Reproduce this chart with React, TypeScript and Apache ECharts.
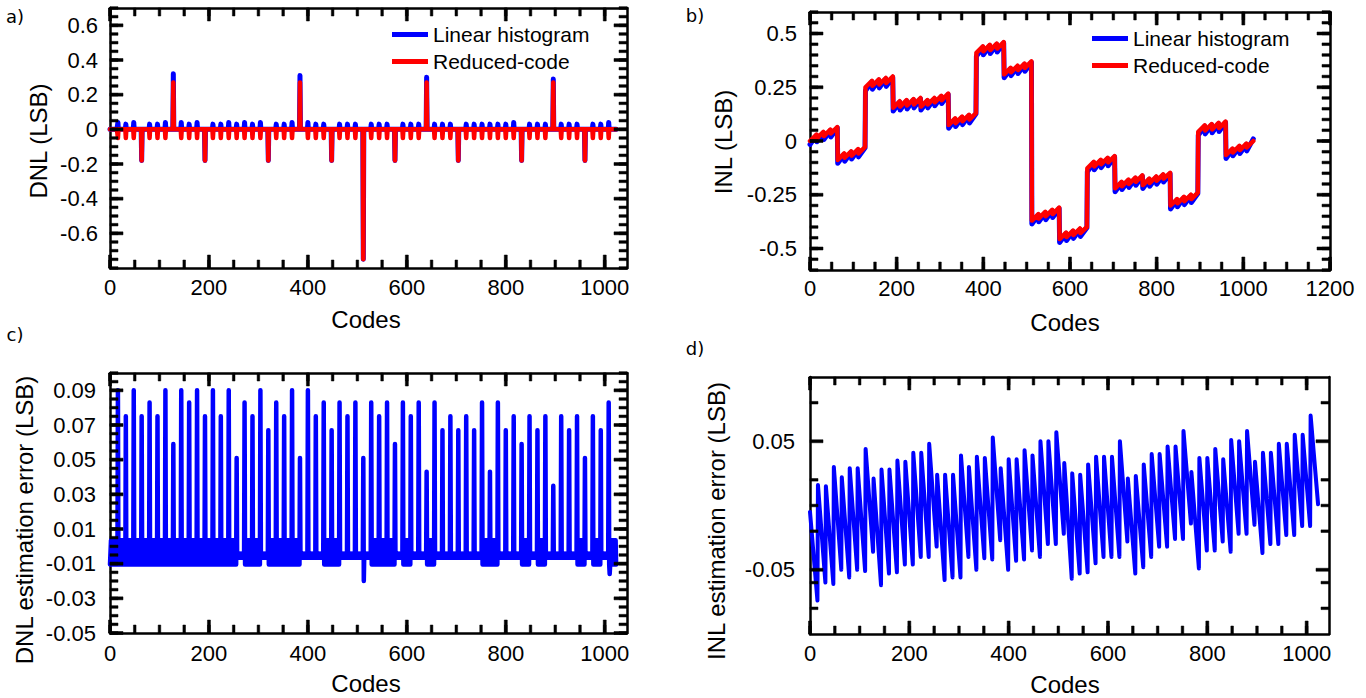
import React, { useEffect, useRef } from "react";
import * as echarts from "echarts";

const FONT = "'Liberation Sans', Arial, Helvetica, sans-serif";
const LETTER_FONT = "'DejaVu Sans', 'Open Sans', sans-serif";
const BLUE = "#0000ff";
const RED = "#ff0000";
const BLOCK = 16;
const N_CODES = 1024;
const X_MAX = 1045;

// ---------- panel a: DNL at every 16th code (other codes sit on 0) ----------
const dnlLinearAt16 = [
  0, 0.04, 0.03, 0.04, -0.18, 0.03, 0.03, 0.04,
  0.32, 0.04, 0.03, 0.04, -0.18, 0.03, 0.03, 0.04,
  0.03, 0.04, 0.03, 0.04, -0.18, 0.03, 0.03, 0.04,
  0.31, 0.04, 0.03, 0.03, -0.18, 0.03, 0.03, 0.03,
  -0.75, 0.03, 0.03, 0.03, -0.18, 0.03, 0.03, 0.03,
  0.3, 0.03, 0.03, 0.03, -0.18, 0.03, 0.03, 0.03,
  0.03, 0.03, 0.03, 0.04, -0.18, 0.03, 0.03, 0.03,
  0.29, 0.03, 0.03, 0.03, -0.18, 0.03, 0.03, 0.04,
];
const dnlReducedAt16 = [
  0, -0.05, -0.05, -0.05, -0.18, -0.05, -0.05, -0.05,
  0.27, -0.05, -0.05, -0.05, -0.18, -0.05, -0.05, -0.05,
  -0.05, -0.05, -0.05, -0.05, -0.18, -0.05, -0.05, -0.05,
  0.27, -0.05, -0.05, -0.05, -0.18, -0.05, -0.05, -0.05,
  -0.75, -0.05, -0.05, -0.05, -0.18, -0.05, -0.05, -0.05,
  0.27, -0.05, -0.05, -0.05, -0.18, -0.05, -0.05, -0.05,
  -0.05, -0.05, -0.05, -0.05, -0.18, -0.05, -0.05, -0.05,
  0.27, -0.05, -0.05, -0.05, -0.18, -0.05, -0.05, -0.05,
];

// ---------- panel b: INL at start / end of every 16-code block ----------
const inlReducedStart = [
  0, 0.012, 0.023, 0.035, -0.088, -0.078, -0.068, -0.058,
  0.25, 0.257, 0.263, 0.27, 0.155, 0.16, 0.165, 0.17,
  0.16, 0.17, 0.18, 0.19, 0.075, 0.083, 0.092, 0.1,
  0.41, 0.417, 0.423, 0.43, 0.31, 0.32, 0.33, 0.34,
  -0.37, -0.36, -0.35, -0.34, -0.456, -0.447, -0.437, -0.428,
  -0.127, -0.118, -0.108, -0.099, -0.22, -0.21, -0.2, -0.19,
  -0.205, -0.195, -0.185, -0.175, -0.3, -0.29, -0.28, -0.27,
  0.043, 0.049, 0.054, 0.06, -0.065, -0.053, -0.042, -0.03,
];
const inlReducedEnd = [
  0.03, 0.042, 0.053, 0.065, -0.058, -0.048, -0.038, -0.028,
  0.28, 0.287, 0.293, 0.3, 0.185, 0.19, 0.195, 0.2,
  0.19, 0.2, 0.21, 0.22, 0.105, 0.113, 0.122, 0.13,
  0.44, 0.447, 0.453, 0.46, 0.34, 0.35, 0.36, 0.37,
  -0.34, -0.33, -0.32, -0.31, -0.426, -0.417, -0.407, -0.4,
  -0.097, -0.088, -0.078, -0.07, -0.19, -0.18, -0.17, -0.16,
  -0.175, -0.165, -0.155, -0.148, -0.27, -0.26, -0.25, -0.24,
  0.073, 0.079, 0.084, 0.09, -0.035, -0.023, -0.012, 0.0,
];
const inlLinearStart = [
  -0.016, -0.004, 0.007, 0.019, -0.104, -0.094, -0.084, -0.074,
  0.234, 0.241, 0.247, 0.254, 0.139, 0.144, 0.149, 0.154,
  0.144, 0.154, 0.164, 0.174, 0.059, 0.067, 0.076, 0.084,
  0.394, 0.401, 0.407, 0.414, 0.294, 0.304, 0.314, 0.324,
  -0.386, -0.376, -0.366, -0.356, -0.472, -0.463, -0.453, -0.444,
  -0.143, -0.134, -0.124, -0.115, -0.236, -0.226, -0.216, -0.206,
  -0.221, -0.211, -0.201, -0.191, -0.316, -0.306, -0.296, -0.286,
  0.027, 0.033, 0.038, 0.044, -0.081, -0.069, -0.058, -0.046,
];
const inlLinearEnd = [
  0.026, 0.038, 0.049, 0.061, -0.062, -0.052, -0.042, -0.032,
  0.276, 0.283, 0.289, 0.296, 0.181, 0.186, 0.191, 0.196,
  0.186, 0.196, 0.206, 0.216, 0.101, 0.109, 0.118, 0.126,
  0.436, 0.443, 0.449, 0.456, 0.336, 0.346, 0.356, 0.366,
  -0.344, -0.334, -0.324, -0.314, -0.43, -0.421, -0.411, -0.404,
  -0.101, -0.092, -0.082, -0.074, -0.194, -0.184, -0.174, -0.164,
  -0.179, -0.169, -0.159, -0.152, -0.274, -0.264, -0.254, -0.244,
  0.069, 0.075, 0.08, 0.086, -0.039, -0.027, -0.016, 0.01,
];

// ---------- panel c: DNL estimation error ----------
const dnlErrAt16 = [
  -0.0105,
  0.09, 0.075, 0.09, 0.075, 0.083, 0.075, 0.09, 0.059,
  0.09, 0.083, 0.09, 0.075, 0.09, 0.075, 0.09, 0.051,
  0.083, 0.075, 0.09, 0.067, 0.083, 0.075, 0.09, 0.051,
  0.09, 0.075, 0.083, 0.067, 0.083, 0.075, 0.083, 0.051,
  0.083, 0.075, 0.083, 0.059, 0.083, 0.075, 0.083, 0.043,
  0.083, 0.067, 0.075, 0.067, 0.075, 0.067, 0.083, 0.043,
  0.083, 0.067, 0.075, 0.059, 0.075, 0.067, 0.075, 0.035,
  0.075, 0.067, 0.075, 0.051, 0.075, 0.067, 0.083,
];
// 1 = block whose in-between codes swing over the full noise band
const dnlErrNoisyBlock = [
  1, 1, 1, 1, 1, 1, 1, 1, 1, 1, 1, 1, 1, 1, 1, 1,
  0, 1, 1, 0, 1, 1, 1, 1, 0, 0, 0, 1, 1, 0, 0, 0,
  0, 1, 1, 1, 0, 1, 0, 0, 1, 0, 0, 0, 0, 0, 0, 1,
  1, 0, 0, 0, 1, 0, 1, 0, 0, 0, 0, 1, 0, 1, 0, 1,
];
const dnlErrNoisyShape = [
  -0.0105, 0.0035, -0.0105, 0.0035, -0.0105, 0.0035, -0.0105, 0.0035,
  -0.0105, 0.0035, -0.0105, 0.0035, -0.0105, 0.0035, -0.0105,
];
const dnlErrQuietShape = [
  -0.0066, -0.0042, -0.0066, -0.0042, -0.0066, -0.0042, -0.0066, -0.0042,
  -0.0066, -0.0042, -0.0066, -0.0042, -0.0066, -0.0042, -0.0066,
];
const dnlErrDips: [number, number][] = [
  [513, -0.02],
  [1010, -0.016],
];

// ---------- panel d: INL estimation error (sawtooth, 16-code period) ----------
const inlErrPeak = [
  -0.005, 0.016, 0.015, 0.03, 0.022, 0.029, 0.029, 0.044,
  0.021, 0.028, 0.028, 0.035, 0.034, 0.041, 0.041, 0.048,
  0.024, 0.024, 0.024, 0.039, 0.03, 0.038, 0.037, 0.053,
  0.029, 0.036, 0.036, 0.043, 0.039, 0.05, 0.05, 0.057,
  0.033, 0.025, 0.024, 0.032, 0.038, 0.038, 0.038, 0.05,
  0.021, 0.023, 0.032, 0.04, 0.04, 0.046, 0.046, 0.058,
  0.026, 0.037, 0.037, 0.044, 0.036, 0.051, 0.05, 0.058,
  0.034, 0.041, 0.041, 0.048, 0.048, 0.055, 0.055, 0.07,
];
const inlErrTrough = [
  -0.074, -0.06, -0.061, -0.05, -0.056, -0.05, -0.051, -0.036,
  -0.062, -0.053, -0.052, -0.046, -0.046, -0.04, -0.04, -0.032,
  -0.058, -0.056, -0.056, -0.04, -0.05, -0.041, -0.042, -0.027,
  -0.05, -0.043, -0.042, -0.035, -0.04, -0.03, -0.03, -0.022,
  -0.057, -0.053, -0.052, -0.045, -0.04, -0.04, -0.04, -0.028,
  -0.053, -0.048, -0.04, -0.032, -0.032, -0.026, -0.026, -0.014,
  -0.049, -0.035, -0.035, -0.028, -0.036, -0.022, -0.022, -0.015,
  -0.037, -0.03, -0.03, -0.023, -0.023, -0.016, -0.016, 0.001,
];

// ---------- tick labels ----------
const xTicks1000 = [0, 200, 400, 600, 800, 1000];
const xTicks1200 = [0, 200, 400, 600, 800, 1000, 1200];
const yTicksA = [-0.6, -0.4, -0.2, 0, 0.2, 0.4, 0.6];
const yTicksB = [-0.5, -0.25, 0, 0.25, 0.5];
const yTicksC = [-0.05, -0.03, -0.01, 0.01, 0.03, 0.05, 0.07, 0.09];
const yTicksD = [-0.05, 0.05];
const yMinorD = [-0.08, -0.06, -0.02, 0, 0.02, 0.08];

function steps(a: number, b: number, s: number) {
  const out: number[] = [];
  const n = Math.floor((b - a) / s + 1e-9);
  for (let i = 0; i <= n; i++) out.push(+(a + i * s).toFixed(5));
  return out;
}

function spikeSeries(at16: number[]) {
  const out: number[][] = [];
  for (let c = 0; c < N_CODES; c++) out.push([c, c % BLOCK === 0 ? at16[c / BLOCK] : 0]);
  return out;
}

function blockSeries(start: number[], end: number[]) {
  const out: number[][] = [];
  start.forEach((v, k) => {
    out.push([k * BLOCK, v]);
    out.push([k * BLOCK + BLOCK - 1, end[k]]);
  });
  return out;
}

function dnlErrSeries() {
  const out: number[][] = [];
  for (let m = 0; m < N_CODES / BLOCK; m++) {
    out.push([m * BLOCK, dnlErrAt16[m]]);
    const shape = dnlErrNoisyBlock[m] ? dnlErrNoisyShape : dnlErrQuietShape;
    for (let i = 1; i < BLOCK; i++) out.push([m * BLOCK + i, shape[i - 1]]);
  }
  dnlErrDips.forEach(([c, v]) => {
    out[c] = [c, v];
  });
  return out;
}

type Dim = {
  min: number;
  max: number;
  labels: number[];
  fmt: (v: number) => string;
  margin: number;
  major: number[];
  minor: number[];
};
type Panel = { grid: { left: number; top: number; width: number; height: number }; x: Dim; y: Dim };

const xFmt = (v: number) => String(v);
const xDim1045 = (margin: number): Dim => ({
  min: 0, max: X_MAX, labels: xTicks1000, fmt: xFmt, margin,
  major: xTicks1000, minor: steps(0, X_MAX, 50),
});

const panels: Panel[] = [
  {
    grid: { left: 110, top: 8, width: 517, height: 260 },
    x: xDim1045(8),
    y: {
      min: -0.8, max: 0.7, labels: yTicksA, fmt: (v) => (v === 0 ? "0" : v.toFixed(1)), margin: 12,
      major: yTicksA, minor: steps(-0.8, 0.7, 0.05),
    },
  },
  {
    grid: { left: 810, top: 12, width: 520, height: 258 },
    x: {
      min: 0, max: 1200, labels: xTicks1200, fmt: xFmt, margin: 7,
      major: xTicks1200, minor: steps(0, 1200, 50),
    },
    y: {
      min: -0.6, max: 0.6, labels: yTicksB, fmt: (v) => String(v), margin: 13,
      major: yTicksB, minor: steps(-0.6, 0.6, 0.05),
    },
  },
  {
    grid: { left: 110, top: 373, width: 517, height: 260 },
    x: xDim1045(9),
    y: {
      min: -0.05, max: 0.1, labels: yTicksC, fmt: (v) => v.toFixed(2), margin: 14,
      major: yTicksC, minor: steps(-0.05, 0.1, 0.005),
    },
  },
  {
    grid: { left: 810, top: 377, width: 519, height: 257 },
    x: xDim1045(8),
    y: {
      min: -0.1, max: 0.1, labels: yTicksD, fmt: (v) => v.toFixed(2), margin: 15,
      major: yTicksD, minor: yMinorD,
    },
  },
];

const AXES_PER_DIM = 2;
const MAJOR_LEN = 13;
const MINOR_LEN = 8;
const MAJOR_W = 3;
const MINOR_W = 2.6;

function boxAxes(kind: "x" | "y", gridIndex: number, d: Dim) {
  const pos = kind === "x" ? ["bottom", "top"] : ["left", "right"];
  const line = { show: true, onZero: false, lineStyle: { color: "#000", width: 2.5 } };
  const base = {
    type: "value", gridIndex, min: d.min, max: d.max,
    splitLine: { show: false }, axisPointer: { show: false }, axisTick: { show: false },
  };
  return [
    {
      ...base, position: pos[0], axisLine: line,
      axisLabel: {
        show: true, customValues: d.labels, formatter: d.fmt, margin: d.margin,
        color: "#000", fontSize: 22, fontFamily: FONT,
      },
    },
    { ...base, position: pos[1], axisLine: line, axisLabel: { show: false } },
  ];
}

function lineSeries(name: string, g: number, data: number[][], color: string, width: number, z: number) {
  return {
    name, type: "line", xAxisIndex: AXES_PER_DIM * g, yAxisIndex: AXES_PER_DIM * g, data,
    showSymbol: false, symbol: "none", silent: true, z,
    itemStyle: { color },
    lineStyle: { color, width, join: "round", cap: "round" },
  };
}

function text(t: string, x: number, y: number, size: number, family: string, rotation = 0) {
  return {
    type: "text", x, y, rotation, silent: true, z: 50,
    style: {
      text: t, fill: "#000", fontSize: size, fontFamily: family,
      align: "center", verticalAlign: "middle", textAlign: "center", textVerticalAlign: "middle",
    },
  };
}

const titleTexts = [
  text("a)", 15, 16, 18, LETTER_FONT),
  text("b)", 695, 15, 18, LETTER_FONT),
  text("c)", 15, 334, 18, LETTER_FONT),
  text("d)", 695, 348, 18, LETTER_FONT),
  text("Codes", 366, 319, 24, FONT),
  text("Codes", 1065, 322, 24, FONT),
  text("Codes", 366, 683, 24, FONT),
  text("Codes", 1065, 684, 24, FONT),
  text("DNL (LSB)", 38, 141, 24, FONT, Math.PI / 2),
  text("INL (LSB)", 723, 142, 24, FONT, Math.PI / 2),
  text("DNL estimation error (LSB)", 24, 520, 24, FONT, Math.PI / 2),
  text("INL estimation error (LSB)", 716, 521, 24, FONT, Math.PI / 2),
];

// Inward-pointing box ticks on all four sides (thin filled rects), placed by the
// same linear mapping as each panel's value axes (grid box + axis min/max).
function tickElements() {
  const els: any[] = [];
  const bar = (x: number, y: number, w: number, h: number) =>
    els.push({
      type: "rect", silent: true, z: 40,
      shape: { x, y, width: w, height: h },
      style: { fill: "#000", stroke: "#000", lineWidth: 0.5 },
    });
  panels.forEach((p) => {
    const { left, top, width, height } = p.grid;
    const xp = (v: number) => left + ((v - p.x.min) / (p.x.max - p.x.min)) * width;
    const yp = (v: number) => top + height - ((v - p.y.min) / (p.y.max - p.y.min)) * height;
    const xTick = (v: number, len: number, w: number) => {
      const x = xp(v) - w / 2;
      bar(x, top + height - len, w, len);
      bar(x, top, w, len);
    };
    const yTick = (v: number, len: number, w: number) => {
      const y = yp(v) - w / 2;
      bar(left, y, len, w);
      bar(left + width - len, y, len, w);
    };
    p.x.minor.forEach((v) => xTick(v, MINOR_LEN, MINOR_W));
    p.x.major.forEach((v) => xTick(v, MAJOR_LEN, MAJOR_W));
    p.y.minor.forEach((v) => yTick(v, MINOR_LEN, MINOR_W));
    p.y.major.forEach((v) => yTick(v, MAJOR_LEN, MAJOR_W));
  });
  return els;
}

function buildOption() {
  const xAxis: any[] = [];
  const yAxis: any[] = [];
  panels.forEach((p, g) => {
    xAxis.push(...boxAxes("x", g, p.x));
    yAxis.push(...boxAxes("y", g, p.y));
  });
  const legendBase = {
    orient: "vertical", itemGap: 6, itemWidth: 36, itemHeight: 5, icon: "rect", padding: 0,
    selectedMode: false, data: ["Linear histogram", "Reduced-code"],
    textStyle: { fontSize: 21, lineHeight: 21, fontFamily: FONT, color: "#000" },
  };
  return {
    animation: false,
    backgroundColor: "#fff",
    grid: panels.map((p) => ({ ...p.grid, containLabel: false })),
    xAxis,
    yAxis,
    legend: [
      { ...legendBase, left: 392, top: 24 },
      { ...legendBase, left: 1092, top: 28 },
    ],
    series: [
      lineSeries("Linear histogram", 0, spikeSeries(dnlLinearAt16), BLUE, 5, 2),
      lineSeries("Reduced-code", 0, spikeSeries(dnlReducedAt16), RED, 4.5, 3),
      lineSeries("Linear histogram", 1, blockSeries(inlLinearStart, inlLinearEnd), BLUE, 5, 2),
      lineSeries("Reduced-code", 1, blockSeries(inlReducedStart, inlReducedEnd), RED, 4.5, 3),
      lineSeries("DNL estimation error", 2, dnlErrSeries(), BLUE, 4.5, 2),
      lineSeries("INL estimation error", 3, blockSeries(inlErrPeak, inlErrTrough), BLUE, 4, 2),
    ],
    graphic: { elements: [...titleTexts, ...tickElements()] },
  };
}

export default function App() {
  const ref = useRef<HTMLDivElement>(null);
  useEffect(() => {
    const chart = echarts.init(ref.current!, null, { renderer: "svg", width: 1366, height: 698 });
    chart.setOption(buildOption() as any);
    return () => chart.dispose();
  }, []);
  return (
    <div
      ref={ref}
      style={{ position: "fixed", left: 0, top: 0, width: 1366, height: 698, background: "#fff" }}
    />
  );
}
